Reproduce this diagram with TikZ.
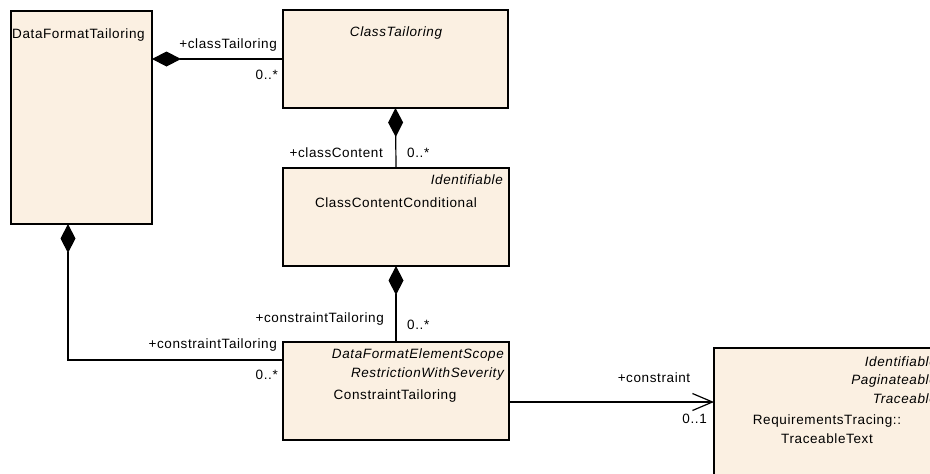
\documentclass[tikz,border=0pt]{standalone}
\usepackage{fontspec}
\setmainfont{Liberation Sans}[LetterSpace=4.5]
\usetikzlibrary{arrows.meta}
\definecolor{classfill}{HTML}{FBF0E2}

\begin{document}
\begin{tikzpicture}[
  x=1pt,
  y=-1pt,
  line join=miter,
  font=\fontsize{13.5}{15}\selectfont,
  cls/.style={draw=black,fill=classfill,line width=1.2pt,inner sep=0pt,outer sep=0pt,anchor=north west},
  comp/.style={draw=black,line width=1.2pt,{Diamond[length=29pt,width=15pt,fill=black]}-},
  assoc/.style={draw=black,line width=1.2pt,-{Straight Barb[length=20pt,width=17pt]}},
  txt/.style={inner sep=0pt,anchor=base},
  stereo/.style={txt,anchor=base east,font=\fontsize{13.5}{15}\selectfont\itshape}
]
  \useasboundingbox (0,0) rectangle (930,474);

  % Class boxes.
  \node[cls,minimum width=141pt,minimum height=213pt] (dft) at (11,11) {};
  \node[cls,minimum width=225pt,minimum height=98pt] (ct) at (283,10) {};
  \node[cls,minimum width=226pt,minimum height=98pt] (ccc) at (283,168) {};
  \node[cls,minimum width=226pt,minimum height=98pt] (cnt) at (283,342) {};
  \node[cls,minimum width=227pt,minimum height=160pt] (tt) at (714,348) {};

  % Class names and stereotypes.
  \node[txt,anchor=base west] (dftName) at (12,38) {DataFormatTailoring};
  \node[txt,font=\fontsize{13.5}{15}\selectfont\itshape] (ctName) at (396,36) {ClassTailoring};
  \node[stereo] (cccStereo) at (503,184) {Identifiable};
  \node[txt] (cccName) at (396,207) {ClassContentConditional};
  \node[stereo] (cntStereoA) at (504,358) {DataFormatElementScope};
  \node[stereo] (cntStereoB) at (504,377) {RestrictionWithSeverity};
  \node[txt] (cntName) at (395,399) {ConstraintTailoring};
  \node[stereo] (ttStereoA) at (937,366) {Identifiable};
  \node[stereo] (ttStereoB) at (937,384) {Paginateable};
  \node[stereo] (ttStereoC) at (937,403) {Traceable};
  \node[txt] (ttNameA) at (827,424) {RequirementsTracing::};
  \node[txt] (ttNameB) at (827,443) {TraceableText};

  % Connector bend points.
  \coordinate (dftBottom) at (68,224);
  \coordinate (cntLeft) at (283,360);
  \coordinate (cntRight) at (509,402);

  % Compositions and the association.
  \draw[comp] (dft.east |- ct.west) -- (ct.west);
  \draw[comp] (ct.south) -- (ccc.north);
  \draw[comp] (ccc.south) -- (cnt.north);
  \draw[comp] (dftBottom) |- (cntLeft);
  \draw[assoc] (cntRight) -- (cntRight -| tt.west);

  % Role names and multiplicities.
  \node[txt,anchor=base east] (roleCt) at (277,48) {+classTailoring};
  \node[txt,anchor=base east] (multCt) at (278,79) {0..*};
  \node[txt,anchor=base east] (roleCcc) at (383,157) {+classContent};
  \node[txt,anchor=base west] (multCcc) at (407,157) {0..*};
  \node[txt,anchor=base east] (roleCntA) at (384,322) {+constraintTailoring};
  \node[txt,anchor=base west] (multCntA) at (407,329) {0..*};
  \node[txt,anchor=base east] (roleCntB) at (277,348) {+constraintTailoring};
  \node[txt,anchor=base east] (multCntB) at (278,379) {0..*};
  \node[txt] (roleTt) at (654,382) {+constraint};
  \node[txt,anchor=base east] (multTt) at (707,423) {0..1};
\end{tikzpicture}
\end{document}
